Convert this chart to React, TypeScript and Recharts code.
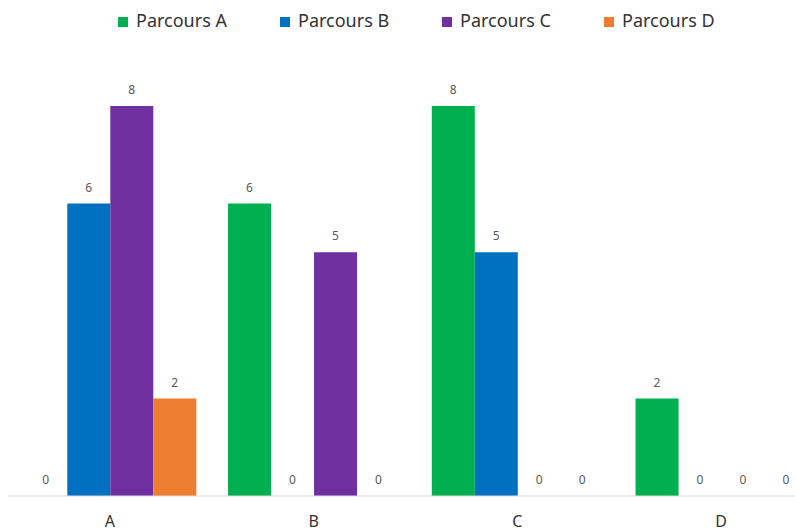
import React from "react";
import { BarChart, Bar, XAxis, YAxis, Legend, LabelList } from "recharts";

const categories = ["A", "B", "C", "D"];
const parcoursA = [0, 6, 8, 2];
const parcoursB = [6, 0, 5, 0];
const parcoursC = [8, 5, 0, 0];
const parcoursD = [2, 0, 0, 0];

const seriesNames = ["Parcours A", "Parcours B", "Parcours C", "Parcours D"];
const seriesKeys = ["pa", "pb", "pc", "pd"];
const seriesColors = ["#00B050", "#0070C0", "#7030A0", "#ED7D31"];

const data = categories.map((c, i) => ({
  name: c,
  pa: parcoursA[i],
  pb: parcoursB[i],
  pc: parcoursC[i],
  pd: parcoursD[i],
}));

const FONT = "'Noto Sans', 'Open Sans', sans-serif";

const LegendContent = () => (
  <div style={{ display: "flex", alignItems: "center", fontFamily: FONT, fontSize: 18, color: "#333333", height: 24 }}>
    {seriesNames.map((n, i) => (
      <div key={n} style={{ display: "flex", alignItems: "center", width: 162 }}>
        <span style={{ display: "inline-block", width: 10, height: 10, background: seriesColors[i], marginRight: 8, marginTop: 3 }} />
        <span>{n}</span>
      </div>
    ))}
  </div>
);

const minSize = (value: number) => (value === 0 ? 0.01 : 0);

const ValueLabel = (props: any) => {
  const { x, y, width, value } = props;
  return (
    <text
      x={Number(x) + Number(width) / 2}
      y={Number(y) - 12}
      textAnchor="middle"
      fontSize={12}
      fill="#595959"
      fontFamily={FONT}
    >
      {value}
    </text>
  );
};

export default function App() {
  return (
    <div style={{ position: "absolute", left: 0, top: 0, width: 795, height: 531, overflow: "hidden", background: "#fff" }}>
      <BarChart
        width={840}
        height={531}
        data={data}
        margin={{ top: 82, right: 17, left: 8, bottom: 5 }}
        barCategoryGap="8%"
        barGap={0}
      >
        <Legend
          verticalAlign="top"
          align="left"
          content={<LegendContent />}
          wrapperStyle={{ left: 118, top: 8, width: 700 }}
        />
        <XAxis
          dataKey="name"
          axisLine={{ stroke: "#D9D9D9" }}
          tickLine={false}
          height={30}
          tickMargin={14}
          tick={{ fontSize: 16, fill: "#333333", fontFamily: FONT }}
        />
        <YAxis hide domain={[0, 8]} />
        {seriesKeys.map((k, i) => (
          <Bar key={k} dataKey={k} name={seriesNames[i]} fill={seriesColors[i]} minPointSize={minSize} isAnimationActive={false}>
            <LabelList dataKey={k} content={<ValueLabel />} />
          </Bar>
        ))}
      </BarChart>
    </div>
  );
}
